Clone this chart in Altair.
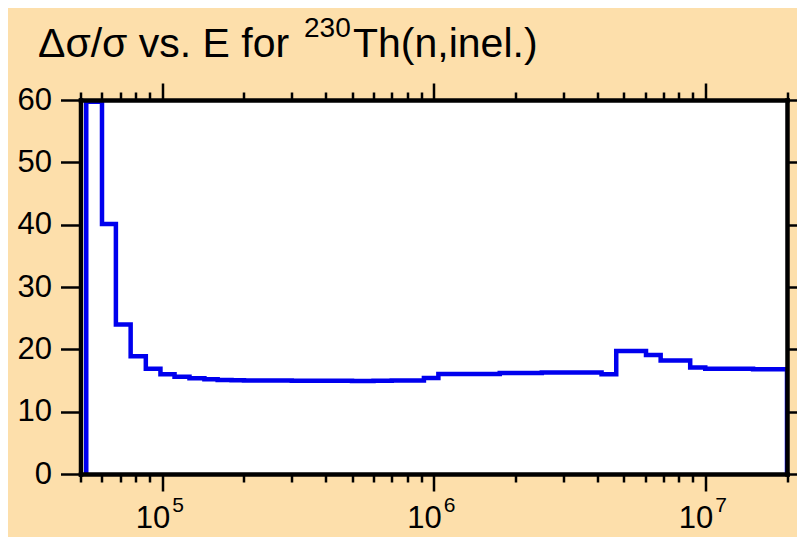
import altair as alt
import pandas as pd

# Group boundaries (eV) and relative uncertainty (%) per group
edges = [5.25e4, 6.0e4, 6.75e4, 7.65e4, 8.7e4, 9.85e4, 1.11e5, 1.26e5, 1.43e5,
         1.6e5, 1.8e5, 2.0e5, 2.5e5, 3.0e5, 4.0e5, 5.0e5, 6.0e5, 7.0e5, 9.2e5,
         1.04e6, 1.75e6, 2.5e6, 3.0e6, 4.15e6, 4.7e6, 6.05e6, 6.85e6, 8.8e6,
         1.0e7, 1.5e7, 2.0e7]
values = [59.7, 40.1, 24.0, 18.9, 16.9, 16.0, 15.6, 15.35, 15.2, 15.1, 15.05,
          15.0, 15.0, 14.95, 14.95, 14.9, 14.95, 15.0, 15.4, 16.05, 16.2, 16.3,
          16.3, 16.0, 19.75, 19.1, 18.2, 17.1, 16.9, 16.8]

x_ticks = [5e4, 6e4, 7e4, 8e4, 9e4,
           1e5, 2e5, 3e5, 4e5, 5e5, 6e5, 7e5, 8e5, 9e5,
           1e6, 2e6, 3e6, 4e6, 5e6, 6e6, 7e6, 8e6, 9e6,
           1e7, 2e7]
y_ticks = [0, 10, 20, 30, 40, 50, 60]
decades = [1e5, 1e6, 1e7]
decade_exp = ["5", "6", "7"]
title_main = "\u0394\u03c3/\u03c3 vs. E for"
title_sup = "230"
title_rest = "Th(n,inel.)"

# step outline: rise from 0, groups, drop back to 0
xs = [edges[0]] + edges
ys = [0] + values + [0]
df = pd.DataFrame({"E": xs, "v": ys, "i": range(len(xs))})
dec_df = pd.DataFrame({"E": decades, "base": ["10"] * 3, "exp": decade_exp})

FONT = "Liberation Sans"
W, H = 706.5, 374
xscale = alt.Scale(type="log", domain=[5e4, 2e7], nice=False)
yscale = alt.Scale(domain=[0, 60], nice=False)

major_test = "abs(log(datum.value)/LN10 - round(log(datum.value)/LN10)) < 0.001"
xtick_size = {"condition": {"test": major_test, "value": 17}, "value": 8}

common_axis = dict(domainColor="black", domainWidth=4.5, domainCap="square",
                   tickColor="black", tickWidth=2.5, grid=False, zindex=1,
                   title=None)

line = alt.Chart(df).mark_line(
    color="#0000ee", strokeWidth=4.5, interpolate="step-after", clip=True,
    strokeJoin="miter"
).encode(
    x=alt.X("E:Q", scale=xscale,
            axis=alt.Axis(orient="bottom", values=x_ticks, labels=False,
                          tickSize=xtick_size, **common_axis)),
    y=alt.Y("v:Q", scale=yscale,
            axis=alt.Axis(orient="left", values=y_ticks, tickSize=20,
                          labelFont=FONT, labelFontSize=31, labelColor="black",
                          labelPadding=9, **common_axis)),
    order="i:Q",
)

mirror = alt.Chart(df).mark_point(opacity=0).encode(
    x=alt.X("E:Q", scale=xscale,
            axis=alt.Axis(orient="top", values=x_ticks, labels=False,
                          tickSize=xtick_size, **common_axis)),
    y=alt.Y("v:Q", scale=yscale,
            axis=alt.Axis(orient="right", values=y_ticks, labels=False,
                          tickSize=17, **common_axis)),
)

lab_base = alt.Chart(dec_df).mark_text(
    font=FONT, fontSize=31, align="right", baseline="alphabetic", dx=8,
    color="black"
).encode(x=alt.X("E:Q", scale=xscale, axis=None), y=alt.value(428), text="base:N")

lab_exp = alt.Chart(dec_df).mark_text(
    font=FONT, fontSize=21, align="left", baseline="alphabetic", dx=10,
    color="black"
).encode(x=alt.X("E:Q", scale=xscale, axis=None), y=alt.value(412), text="exp:N")

t1 = alt.Chart(pd.DataFrame({"t": [title_main]})).mark_text(
    font=FONT, fontSize=41, align="left", baseline="alphabetic", color="black"
).encode(x=alt.value(-42.5), y=alt.value(-43), text="t:N")
t2 = alt.Chart(pd.DataFrame({"t": [title_sup]})).mark_text(
    font=FONT, fontSize=28, align="left", baseline="alphabetic", color="black"
).encode(x=alt.value(223.5), y=alt.value(-63), text="t:N")
t3 = alt.Chart(pd.DataFrame({"t": [title_rest]})).mark_text(
    font=FONT, fontSize=41, align="left", baseline="alphabetic", color="black"
).encode(x=alt.value(272.5), y=alt.value(-43), text="t:N")

chart = alt.layer(line, mirror, lab_base, lab_exp, t1, t2, t3).resolve_axis(
    x="independent", y="independent"
).properties(
    width=W, height=H,
    autosize=alt.AutoSizeParams(type="none"),
    padding={"left": 72.5, "top": 92, "right": 10, "bottom": 63},
    background="#fddfab",
).configure_view(stroke=None, fill="white")

chart.save("out.html", embed_options={"renderer": "svg", "actions": False})
